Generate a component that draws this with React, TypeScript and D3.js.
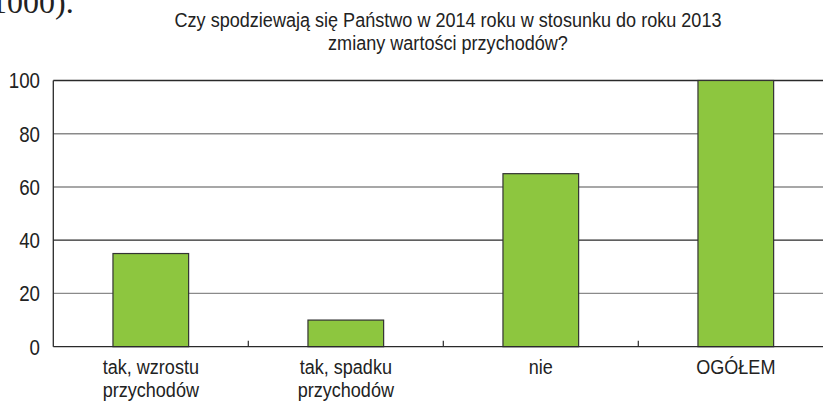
import React from "react";
import * as d3 from "d3";

const categories = ["tak, wzrostu\nprzychodów", "tak, spadku\nprzychodów", "nie", "OGÓŁEM"];
const values = [35, 10, 65, 100];
const yTicks = [0, 20, 40, 60, 80, 100];
const titleLines = [
  "Czy spodziewają się Państwo w 2014 roku w stosunku do roku 2013",
  "zmiany wartości przychodów?",
];
const darkGrid = [40, 100];

const W = 823;
const H = 401;
const FONT = "'Liberation Sans', Arial, sans-serif";

function NText({ x, y, s, size, anchor, children }: any) {
  return (
    <text
      transform={`translate(${x},${y}) scale(${s},1)`}
      textAnchor={anchor}
      fontSize={size}
      fontFamily={FONT}
      fill="#222"
    >
      {children}
    </text>
  );
}

export default function App() {
  const x = d3.scaleBand<string>().domain(categories).range([53.3, 833.3]).padding(0);
  const y = d3.scaleLinear().domain([0, 100]).range([346.7, 80.5]);
  const barW = x.bandwidth() * 0.388;
  const boundaries = categories.slice(1).map((c) => x(c) as number);

  return (
    <svg
      width={W}
      height={H}
      style={{ position: "absolute", left: 0, top: 0, background: "#fff" }}
    >
      <text x={-9} y={13} fontFamily="'Liberation Serif', serif" fontSize={32} fill="#222">
        1000).
      </text>
      {titleLines.map((t, i) => (
        <NText key={i} x={448} y={27 + i * 23} s={0.86} size={21} anchor="middle">
          {t}
        </NText>
      ))}
      {yTicks.map((t) =>
        t === 0 ? null : (
          <line
            key={"g" + t}
            x1={53.3}
            x2={W}
            y1={y(t)}
            y2={y(t)}
            stroke={darkGrid.includes(t) ? "#2a2a2a" : "#8a8a8a"}
            strokeWidth={1.3}
          />
        )
      )}
      {yTicks.map((t) => (
        <NText key={"l" + t} x={40} y={y(t) + 7.8} s={0.85} size={22} anchor="end">
          {t}
        </NText>
      ))}
      {categories.map((c, i) => {
        const cx = (x(c) as number) + x.bandwidth() / 2;
        return (
          <rect
            key={"b" + i}
            x={cx - barW / 2}
            y={y(values[i])}
            width={barW}
            height={y(0) - y(values[i])}
            fill="#8DC63F"
            stroke="#333"
            strokeWidth={1.2}
          />
        );
      })}
      <line x1={53.3} x2={53.3} y1={y(100)} y2={y(0)} stroke="#2a2a2a" strokeWidth={1.3} />
      <line x1={53.3} x2={W} y1={y(0)} y2={y(0)} stroke="#2a2a2a" strokeWidth={1.3} />
      {boundaries.map((bx, i) => (
        <line key={"t" + i} x1={bx} x2={bx} y1={y(0)} y2={y(0) - 6} stroke="#2a2a2a" strokeWidth={1.2} />
      ))}
      {categories.map((c, i) => {
        const cx = (x(c) as number) + x.bandwidth() / 2;
        return c.split("\n").map((line, j) => (
          <NText key={"c" + i + j} x={cx} y={374 + j * 23} s={0.86} size={21} anchor="middle">
            {line}
          </NText>
        ));
      })}
    </svg>
  );
}
